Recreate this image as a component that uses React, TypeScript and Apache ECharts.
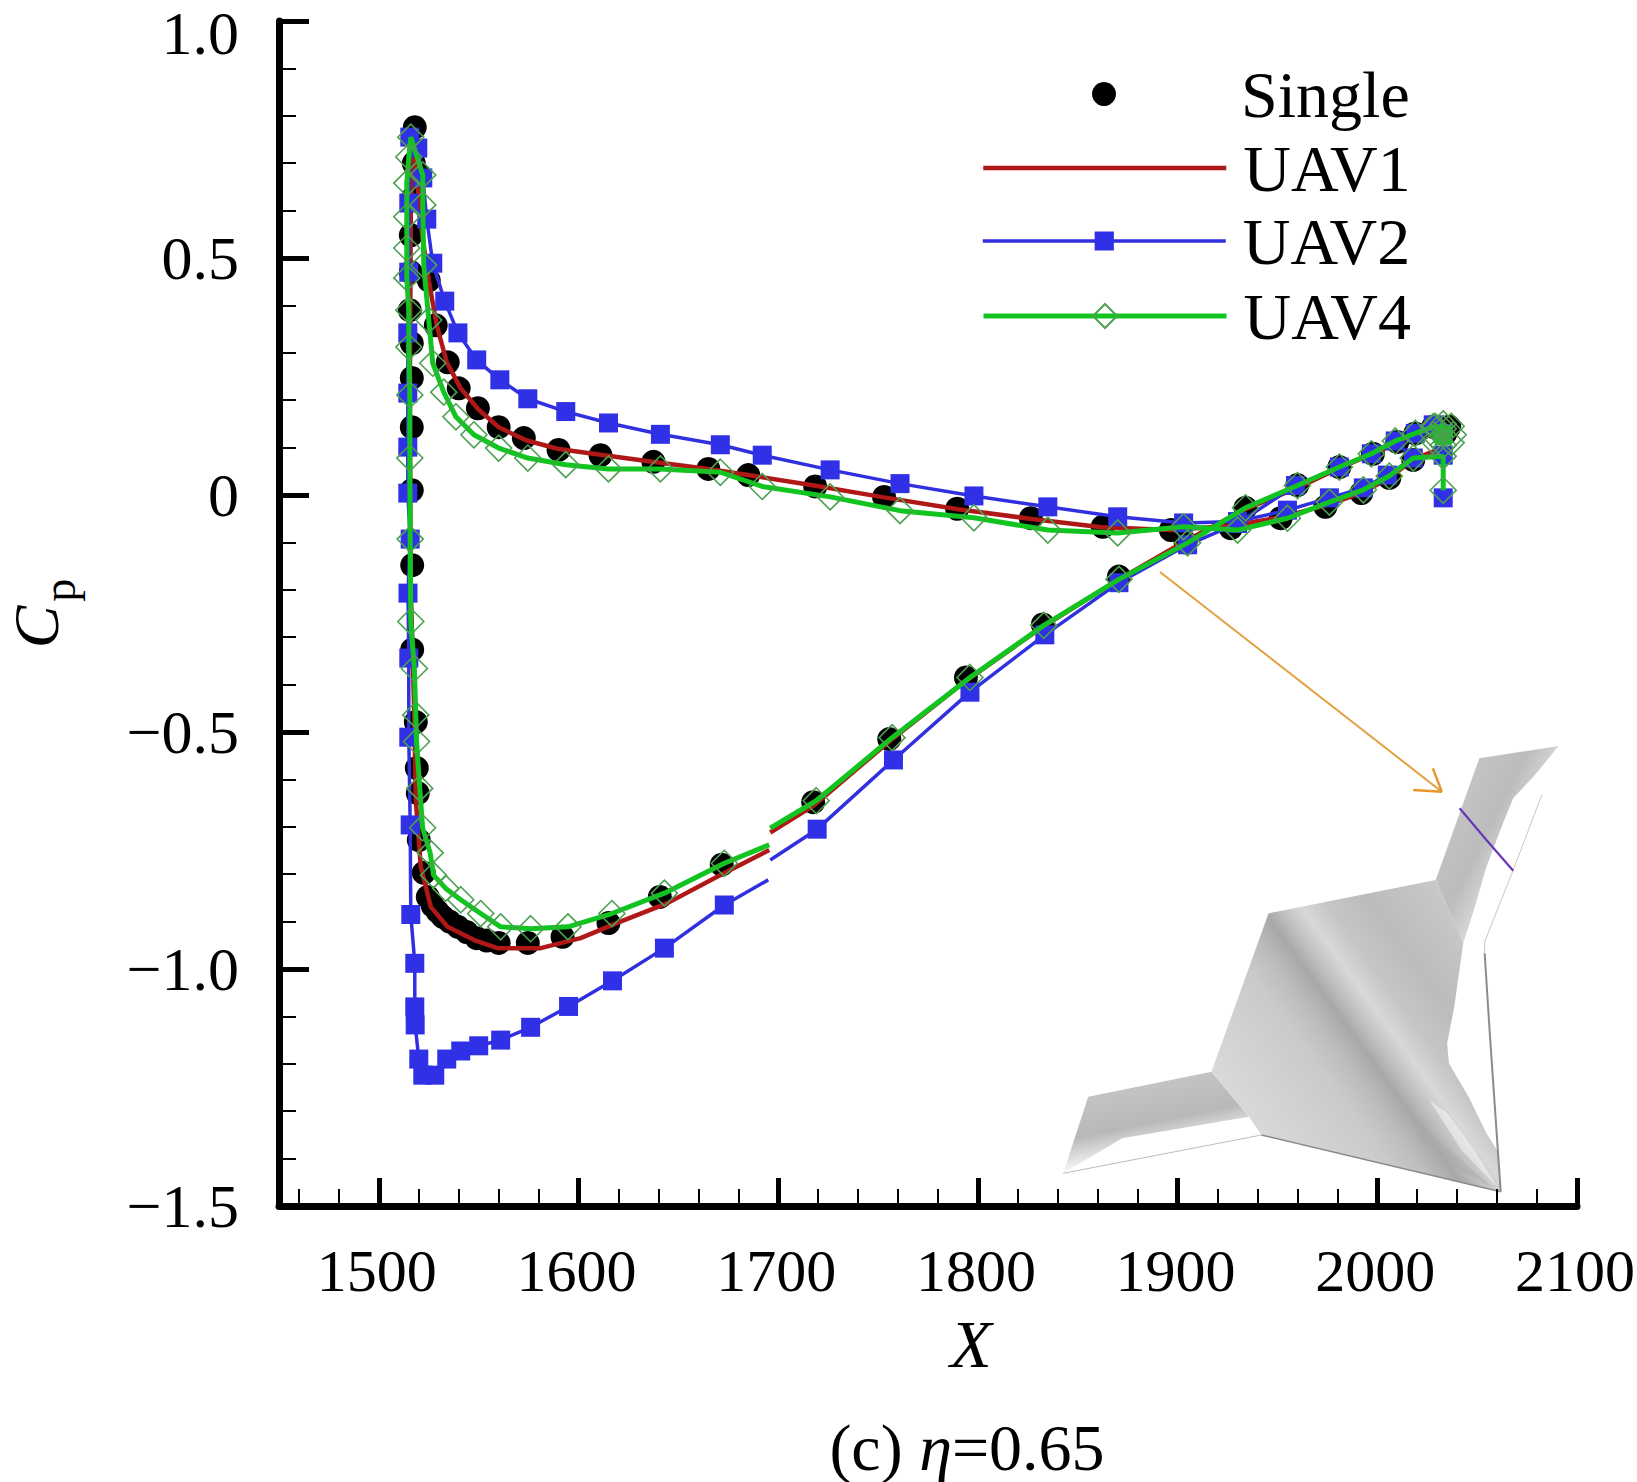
import React, { useEffect, useRef } from "react";
import * as echarts from "echarts";

const FONT = "'Liberation Serif', 'Times New Roman', serif";

const xMajorTicks = [1500, 1600, 1700, 1800, 1900, 2000, 2100];
const xMinorTicks = [
  1460, 1480, 1520, 1540, 1560, 1580, 1620, 1640, 1660, 1680, 1720, 1740, 1760, 1780, 1820, 1840,
  1860, 1880, 1920, 1940, 1960, 1980, 2020, 2040, 2060, 2080,
];

const singleData: number[][] = [
  [2036, 0.144], [2028, 0.144], [2019, 0.13], [2010, 0.112], [1997.8, 0.087], [1981, 0.059], [1960, 0.021],
  [1934, -0.027], [1904, -0.1], [1870.6, -0.172], [1832.5, -0.273], [1794, -0.385], [1755.6, -0.515],
  [1717.5, -0.648], [1671.7, -0.78], [1640.7, -0.848], [1615, -0.903], [1592, -0.932], [1574.6, -0.945],
  [1560, -0.945], [1554, -0.94], [1549, -0.935], [1544, -0.922], [1539.6, -0.911], [1535.5, -0.9], [1532, -0.89],
  [1529.5, -0.879], [1527, -0.867], [1524.5, -0.848], [1522.5, -0.797],
  [1520, -0.728], [1519.5, -0.629], [1519, -0.576], [1518.5, -0.479], [1516.7, -0.326], [1516.7, -0.148],
  [1516.5, 0.01], [1516.5, 0.143], [1516.5, 0.247], [1516.5, 0.32], [1515.5, 0.39], [1516, 0.47],
  [1516, 0.548], [1517.5, 0.629], [1517.5, 0.7], [1518, 0.776], [1520, 0.675], [1525, 0.453], [1528.5, 0.358],
  [1534.5, 0.28], [1540, 0.225], [1549.6, 0.183], [1560, 0.143], [1572.6, 0.12], [1590, 0.095], [1611, 0.084],
  [1637.5, 0.07], [1665, 0.055], [1685, 0.042], [1718.5, 0.018], [1753, -0.004], [1789.6, -0.029],
  [1826.5, -0.049], [1862.5, -0.067], [1896.6, -0.074], [1926.6, -0.07], [1951.6, -0.049], [1974, -0.025],
  [1992, 0.004], [2006, 0.036], [2018, 0.074], [2034, 0.13],
];

const uav1Data: (number | string)[][] = [
  [2033, 0.14], [2020, 0.13], [2010, 0.11], [1998, 0.087], [1981, 0.057], [1960, 0.015], [1934, -0.03],
  [1904, -0.097], [1870.6, -0.178], [1832.5, -0.278], [1794, -0.392], [1755.6, -0.52], [1717.5, -0.656],
  [1696, -0.712], [1696, "-"], [1695.5, -0.749], [1671.3, -0.801], [1644.5, -0.861], [1621, -0.9], [1601, -0.935],
  [1581, -0.956], [1559.4, -0.956], [1547.7, -0.939], [1534.4, -0.911], [1526, -0.869], [1521, -0.784],
  [1518.5, -0.643], [1517.7, -0.454], [1516, -0.2], [1515.5, 0.2], [1516, 0.6], [1517, 0.74], [1519, 0.68],
  [1521, 0.57], [1525, 0.453], [1529, 0.358], [1534, 0.28], [1541, 0.225], [1550, 0.18], [1560, 0.143],
  [1574, 0.115], [1590, 0.097], [1611, 0.085], [1637, 0.07], [1665, 0.055], [1685, 0.042], [1718, 0.02],
  [1753, -0.005], [1790, -0.03], [1826, -0.05], [1862, -0.068], [1897, -0.074], [1927, -0.065], [1952, -0.047],
  [1974, -0.022], [1992, 0.004], [2006, 0.036], [2018, 0.075], [2033, 0.1],
];

const uav2Data: (number | string)[][] = [
  [2033, 0.13], [2028, 0.148], [2019, 0.13], [2009, 0.114], [1997, 0.087], [1981, 0.059], [1959, 0.02],
  [1930, -0.06], [1905, -0.105], [1870.6, -0.185], [1833.5, -0.295], [1796, -0.416], [1757.7, -0.559],
  [1719.5, -0.705], [1696, -0.77], [1696, "-"], [1695, -0.812], [1673, -0.865], [1643, -0.956], [1617, -1.025],
  [1595, -1.079], [1576, -1.123], [1561, -1.15], [1550, -1.162], [1541, -1.173], [1534, -1.19], [1528, -1.224],
  [1522, -1.224], [1520, -1.19], [1518.2, -1.118], [1518, -1.08], [1518, -0.988], [1516, -0.885], [1515.7, -0.696],
  [1515, -0.511], [1515, -0.344], [1514.6, -0.207], [1515.7, -0.093], [1514.5, 0.004], [1514.5, 0.101],
  [1514.5, 0.215], [1514.5, 0.342], [1515, 0.47], [1515, 0.616], [1515.5, 0.755], [1519.5, 0.732], [1522, 0.669],
  [1524, 0.582], [1527, 0.489], [1533, 0.409], [1539.6, 0.342], [1549, 0.285], [1560.6, 0.243], [1574.6, 0.203],
  [1593.6, 0.176], [1615, 0.152], [1641, 0.128], [1671, 0.106], [1692, 0.084], [1726, 0.053], [1761, 0.024],
  [1798, -0.002], [1835, -0.025], [1870, -0.046], [1903, -0.059], [1930, -0.056], [1955, -0.032], [1976, -0.006],
  [1993, 0.015], [2005, 0.042], [2018, 0.078], [2033, 0.084], [2033, -0.006],
];

const uav4Data: (number | string)[][] = [
  [2038, 0.127], [2028, 0.127], [2033, 0.15], [2033, 0.105], [2037, 0.145], [2029, 0.11], [2037, 0.11], [2029, 0.145],
  [2033, 0.14], [2028, 0.144], [2019, 0.13],
  [2009, 0.114], [1997, 0.087], [1981, 0.059], [1960, 0.02], [1934, -0.027], [1905, -0.101], [1870.6, -0.178],
  [1833, -0.275], [1796, -0.385], [1757, -0.512], [1719, -0.645], [1696, -0.703], [1696, "-"], [1695.5, -0.738],
  [1673, -0.777], [1643, -0.84], [1616.7, -0.883], [1594.7, -0.911], [1576, -0.915], [1561, -0.911],
  [1551, -0.883], [1541, -0.854], [1533.5, -0.83], [1527.4, -0.802], [1525.7, -0.755], [1521.9, -0.702],
  [1520.5, -0.619], [1518.9, -0.52], [1518.5, -0.464], [1517.8, -0.366], [1516, -0.267], [1515.7, -0.093],
  [1515.5, 0.078], [1515.5, 0.211], [1515, 0.312], [1515, 0.39], [1514, 0.458], [1514, 0.521], [1514, 0.587],
  [1514, 0.658], [1515, 0.713], [1516, 0.755], [1522, 0.675], [1522, 0.612], [1522.5, 0.485], [1525, 0.369],
  [1527, 0.278], [1532.5, 0.217], [1538.6, 0.165], [1547.6, 0.127], [1560, 0.099], [1574.6, 0.078], [1593.6, 0.064],
  [1615, 0.055], [1641, 0.055], [1671, 0.048], [1692, 0.018], [1726, -0.004], [1761, -0.033], [1798, -0.048],
  [1835, -0.074], [1870, -0.08], [1903, -0.067], [1930, -0.074], [1955, -0.049], [1976, -0.015], [1993, 0.011],
  [2006, 0.04], [2018, 0.078], [2033, 0.082], [2033, 0.01],
];

// The picture has a splice at X≈1696: the curve ends there carry no marker.
const noMarkAtSplice = (data: (number | string)[][]) =>
  data.map((p) => {
    const x = p[0] as number;
    return x >= 1695 && x <= 1696 ? { value: p, symbol: "none" } : { value: p };
  });

const zx = (x: number) => 1040 + x / 2.8;
const zy = (y: number) => 720 + y / 3;
const zp = (pts: number[][]) => pts.map(([x, y]) => [zx(x), zy(y)]);
const bodyOutline = [
  [640, 580], [1108, 480], [1185, 670], [1160, 860], [1140, 970], [1145, 1030], [1200, 1130], [1250, 1240],
  [1285, 1300], [1290, 1415], [620, 1245], [585, 1190], [480, 1055],
];
const rightWing = [[1230, 115], [1452, 78], [1390, 160], [1325, 235], [1300, 300], [1250, 440], [1215, 570], [1185, 670], [1108, 480]];
const leftWing = [[480, 1055], [585, 1190], [230, 1255], [65, 1360], [135, 1130]];

const grad = (a: number[], b: number[], stops: [number, string][]) =>
  new echarts.graphic.LinearGradient(
    zx(a[0]), zy(a[1]), zx(b[0]), zy(b[1]),
    stops.map(([offset, color]) => ({ offset, color })),
    true,
  );

export default function App() {
  const ref = useRef<HTMLDivElement>(null);
  useEffect(() => {
    if (!ref.current) return;
    const chart = echarts.init(ref.current, undefined, { renderer: "svg" });
    const textStyle = { fontFamily: FONT, color: "#000", fontWeight: "normal" };
    const legendBase = {
      orient: "horizontal",
      left: 981,
      itemWidth: 243,
      selectedMode: false,
      padding: 0,
      textStyle: { ...textStyle, fontSize: 66, padding: [0, 0, 0, 12] },
    };
    chart.setOption({
      animation: false,
      backgroundColor: "#fff",
      textStyle: { fontFamily: FONT },
      title: {
        text: "{a|(c) }{e|η}{a|=0.65}",
        left: 967,
        textAlign: "center",
        top: 1414,
        padding: 0,
        textStyle: {
          fontWeight: "normal",
          rich: {
            a: { fontFamily: FONT, fontSize: 66, color: "#000", fontWeight: "normal" },
            e: { fontFamily: FONT, fontSize: 66, fontStyle: "italic", color: "#000", fontWeight: "normal" },
          },
        },
      },
      grid: { left: 279, top: 21, right: 60, bottom: 276, containLabel: false, outerBoundsMode: "none" },
      legend: [
        {
          ...legendBase,
          left: 1092,
          itemWidth: 24,
          top: 61,
          itemHeight: 24,
          textStyle: { ...textStyle, fontSize: 66, padding: [0, 0, 6, 120] },
          data: [{ name: "Single", icon: "circle" }],
        },
        { ...legendBase, top: 135, itemHeight: 24, lineStyle: { width: 4.5 }, data: [{ name: "UAV1", itemStyle: { color: "transparent", borderColor: "transparent" } }] },
        { ...legendBase, top: 208, itemHeight: 24, lineStyle: { width: 3.5 }, data: ["UAV2"] },
        { ...legendBase, top: 283, itemHeight: 30, lineStyle: { width: 5 }, data: ["UAV4"] },
      ],
      xAxis: [
        {
          type: "value",
          min: 1450,
          max: 2100,
          name: "X",
          nameLocation: "middle",
          nameGap: 104,
          nameTextStyle: { ...textStyle, fontSize: 68, fontStyle: "italic", padding: [0, 0, 0, 86] },
          axisLine: { show: true, onZero: false, lineStyle: { color: "#000", width: 7 } },
          axisTick: { show: true, inside: true, length: 28, customValues: xMajorTicks, lineStyle: { color: "#000", width: 5 } },
          axisLabel: { ...textStyle, fontSize: 60, margin: 35, padding: [0, 4, 0, 0], customValues: xMajorTicks, formatter: (v: number) => String(v) },
          splitLine: { show: false },
        },
        {
          type: "value",
          min: 1450,
          max: 2100,
          position: "bottom",
          axisLine: { show: false, onZero: false },
          axisTick: { show: true, inside: true, length: 17, customValues: xMinorTicks, lineStyle: { color: "#000", width: 2 } },
          axisLabel: { show: false },
          splitLine: { show: false },
        },
      ],
      yAxis: {
        type: "value",
        min: -1.5,
        max: 1,
        interval: 0.5,
        name: "{c|C}{p|p}",
        nameLocation: "middle",
        nameGap: 197,
        nameRotate: 90,
        nameTextStyle: {
          rich: {
            c: { fontFamily: FONT, fontSize: 64, fontStyle: "italic", color: "#000", fontWeight: "normal" },
            p: { fontFamily: FONT, fontSize: 46, color: "#000", fontWeight: "normal", padding: [46, 0, 0, 4] },
          },
        },
        axisLine: { show: true, onZero: false, lineStyle: { color: "#000", width: 7 } },
        axisTick: { show: true, inside: true, length: 30, lineStyle: { color: "#000", width: 5 } },
        minorTick: { show: true, splitNumber: 5, length: 17, lineStyle: { color: "#000", width: 2 } },
        axisLabel: {
          ...textStyle,
          fontSize: 62,
          lineHeight: 44,
          margin: 40,
          rich: { t: { fontFamily: FONT, fontSize: 62, color: "#000", lineHeight: 44, padding: [23, 0, 0, 0] } },
          formatter: (v: number) =>
            v === 1 ? "{t|1.0}" : v === 0 ? "0" : v < 0 ? "\u2212" + Math.abs(v).toFixed(1) : v.toFixed(1),
        },
        splitLine: { show: false },
      },
      series: [
        {
          name: "Single",
          type: "scatter",
          data: singleData,
          symbol: "circle",
          symbolSize: 24,
          itemStyle: { color: "#000", opacity: 1 },
          z: 2,
        },
        {
          name: "UAV1",
          type: "line",
          data: uav1Data,
          symbol: "none",
          connectNulls: false,
          lineStyle: { color: "#b01818", width: 4.5 },
          itemStyle: { color: "#b01818" },
          z: 3,
        },
        {
          name: "UAV2",
          type: "line",
          data: noMarkAtSplice(uav2Data),
          symbol: "rect",
          symbolSize: 19,
          showAllSymbol: true,
          connectNulls: false,
          lineStyle: { color: "#3030e0", width: 3.5 },
          itemStyle: { color: "#3030e6", opacity: 1 },
          z: 4,
        },
        {
          name: "UAV4",
          type: "line",
          data: noMarkAtSplice(uav4Data),
          symbol: "diamond",
          symbolSize: 26,
          showAllSymbol: true,
          connectNulls: false,
          lineStyle: { color: "#12c41f", width: 5 },
          itemStyle: { color: "transparent", borderColor: "#4ca050", borderWidth: 1.6, opacity: 1 },
          z: 5,
        },
      ],
      graphic: [
        {
          type: "polygon",
          silent: true,
          shape: { points: zp(rightWing) },
          style: {
            fill: grad([1130, 300], [1350, 420], [
              [0, "#c4c4c4"], [0.5, "#bcbcbc"], [0.8, "#d4d4d4"], [1, "#f4f4f4"],
            ]),
          },
        },
        {
          type: "polygon",
          silent: true,
          shape: { points: zp(leftWing) },
          style: {
            fill: grad([300, 1090], [340, 1300], [
              [0, "#c4c4c4"], [0.55, "#b8b8b8"], [0.85, "#e4e4e4"], [1, "#f8f8f8"],
            ]),
          },
        },
        {
          type: "polygon",
          silent: true,
          shape: { points: zp(bodyOutline) },
          style: {
            fill: grad([480, 1300], [1300, 660], [
              [0, "#e0e0e0"], [0.22, "#d4d4d4"], [0.38, "#cacaca"], [0.45, "#bcbcbc"], [0.51, "#a8a8a8"],
              [0.55, "#c0c0c0"], [0.6, "#d8d8d8"], [0.66, "#c6c6c6"], [0.76, "#bcbcbc"], [1, "#cccccc"],
            ]),
          },
        },
        {
          type: "polygon",
          silent: true,
          shape: { points: zp([[1030, 1170], [1090, 1240], [1180, 1320], [1270, 1405], [1160, 1340], [1060, 1260]]) },
          style: { fill: "#a8a8a8", opacity: 0.4 },
        },
        {
          type: "polygon",
          silent: true,
          shape: { points: zp([[1090, 1140], [1140, 1180], [1210, 1280], [1280, 1400], [1180, 1290]]) },
          style: { fill: "#ffffff", opacity: 0.45 },
        },
        { type: "polyline", silent: true, shape: { points: zp([[620, 1245], [1290, 1415]]) }, style: { stroke: "#8a8a8a", lineWidth: 1.5, fill: "none" } },
        { type: "polyline", silent: true, shape: { points: zp([[65, 1360], [620, 1245]]) }, style: { stroke: "#bdbdbd", lineWidth: 1, fill: "none" } },
        { type: "polyline", silent: true, shape: { points: zp([[1405, 225], [1325, 450], [1245, 665], [1245, 700]]) }, style: { stroke: "#c8c8c8", lineWidth: 1, fill: "none" } },
        { type: "polyline", silent: true, shape: { points: zp([[1245, 700], [1260, 950], [1290, 1415]]) }, style: { stroke: "#8c8c8c", lineWidth: 2, fill: "none" } },
        { type: "polyline", silent: true, shape: { points: zp([[1175, 265], [1250, 360], [1325, 452]]) }, style: { stroke: "#6a35b8", lineWidth: 2.2, fill: "none" } },
        { type: "line", silent: true, shape: { x1: 1160, y1: 572, x2: zx(1125), y2: zy(215) }, style: { stroke: "#e3a040", lineWidth: 2 } },
        { type: "line", silent: true, shape: { x1: zx(1100), y1: zy(145), x2: zx(1125), y2: zy(215) }, style: { stroke: "#e8962c", lineWidth: 2.5 } },
        { type: "line", silent: true, shape: { x1: zx(1045), y1: zy(210), x2: zx(1125), y2: zy(215) }, style: { stroke: "#e8962c", lineWidth: 2.5 } },
      ],
    });
    return () => chart.dispose();
  }, []);
  return <div ref={ref} style={{ position: "absolute", left: 0, top: 0, width: 1637, height: 1482 }} />;
}
